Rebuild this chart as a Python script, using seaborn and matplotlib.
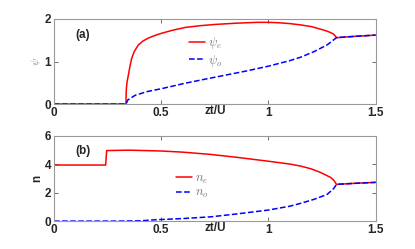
import numpy as np
import pandas as pd
import matplotlib
matplotlib.use("Agg")
import matplotlib.pyplot as plt
import seaborn as sns

# ----------------------- Data
x_psi_e = [0, 0.336, 0.3365, 0.338, 0.341, 0.347, 0.355, 0.363, 0.375, 0.394,
           0.415, 0.44, 0.47, 0.50, 0.55, 0.612, 0.68, 0.75, 0.85, 0.95, 1.0,
           1.05, 1.1, 1.15, 1.2, 1.243, 1.27, 1.29, 1.305, 1.318, 1.4, 1.5]
psi_e = [0, 0, 0.22, 0.38, 0.52, 0.68, 0.90, 1.08, 1.24, 1.39,
         1.48, 1.55, 1.61, 1.66, 1.73, 1.80, 1.84, 1.87, 1.90, 1.92, 1.92,
         1.91, 1.89, 1.86, 1.82, 1.76, 1.72, 1.68, 1.64, 1.56, 1.59, 1.62]

x_psi_o = [0, 0.336, 0.345, 0.38, 0.44, 0.50, 0.612, 0.70, 0.80, 0.90, 1.0,
           1.1, 1.15, 1.212, 1.274, 1.305, 1.318, 1.4, 1.5]
psi_o = [0, 0, 0.10, 0.21, 0.30, 0.36, 0.49, 0.58, 0.68, 0.78, 0.89,
         1.02, 1.10, 1.23, 1.39, 1.51, 1.56, 1.59, 1.62]

x_n_e = [0, 0.241, 0.246, 0.35, 0.5, 0.6, 0.73, 0.85, 1.0, 1.1, 1.15, 1.2,
         1.243, 1.29, 1.305, 1.318, 1.4, 1.5]
n_e = [3.95, 3.95, 4.97, 5.0, 4.94, 4.86, 4.70, 4.50, 4.22, 4.02, 3.88, 3.68,
       3.43, 3.08, 2.88, 2.59, 2.66, 2.73]

x_n_o = [0, 0.3, 0.4, 0.48, 0.6, 0.73, 0.85, 1.0, 1.1, 1.15, 1.212, 1.274,
         1.305, 1.318, 1.4, 1.5]
n_o = [0, 0, 0.02, 0.10, 0.18, 0.30, 0.50, 0.78, 1.05, 1.25, 1.53, 1.88,
       2.30, 2.59, 2.66, 2.73]

red = "#ff0000"
blue = "#0000ff"

sns.set_style("ticks")
plt.rcParams["font.family"] = ["Liberation Sans", "DejaVu Sans"]
plt.rcParams["mathtext.fontset"] = "cm"

fig = plt.figure(figsize=(4.15, 2.49), dpi=100)
ax1 = fig.add_axes([0.130, 0.582, 0.775, 0.342])
ax2 = fig.add_axes([0.130, 0.112, 0.775, 0.342])


def style_axis(ax, ylim, yticks):
    ax.set_xlim(0, 1.5)
    ax.set_ylim(*ylim)
    ax.set_xticks([0, 0.5, 1, 1.5])
    ax.set_xticklabels(["0", "0.5", "1", "1.5"])
    ax.set_yticks(yticks)
    ax.tick_params(direction="in", top=True, right=True, length=3,
                   width=0.6, color="#555555", labelsize=8.5, pad=2)
    for lab in ax.get_xticklabels() + ax.get_yticklabels():
        lab.set_fontweight("bold")
    for sp in ax.spines.values():
        sp.set_color("#999999")
        sp.set_linewidth(0.8)
    ax.set_xlabel("zt/U", fontsize=8.5, fontweight="bold", labelpad=-10)


# ----------------------- (a)
sns.lineplot(x=x_psi_e, y=psi_e, ax=ax1, color=red, lw=1.1,
             estimator=None, sort=False, label=r"$\psi_e$")
sns.lineplot(x=x_psi_o, y=psi_o, ax=ax1, color=blue, lw=1.1,
             estimator=None, sort=False, label=r"$\psi_o$", linestyle="--")
style_axis(ax1, (0, 2), [0, 1, 2])
ax1.set_ylabel(r"$\psi$", fontsize=8, color="#888888", labelpad=1)
ax1.text(0.1, 1.55, "(a)", fontsize=8.5, fontweight="bold")
leg = ax1.legend(loc="upper left", bbox_to_anchor=(0.40, 0.88), frameon=False,
                 fontsize=9, handlelength=1.3, handletextpad=0.2,
                 labelspacing=0.1, borderpad=0)
for t in leg.get_texts():
    t.set_color("#777777")

# ----------------------- (b)
sns.lineplot(x=x_n_e, y=n_e, ax=ax2, color=red, lw=1.1,
             estimator=None, sort=False, label=r"$n_e$")
sns.lineplot(x=x_n_o, y=n_o, ax=ax2, color=blue, lw=1.1,
             estimator=None, sort=False, label=r"$n_o$", linestyle="--")
style_axis(ax2, (0, 6), [0, 2, 4, 6])
ax2.set_ylabel("n", fontsize=8.5, fontweight="bold", labelpad=1)
ax2.text(0.1, 4.75, "(b)", fontsize=8.5, fontweight="bold")
leg = ax2.legend(loc="upper left", bbox_to_anchor=(0.36, 0.64), frameon=False,
                 fontsize=9, handlelength=1.3, handletextpad=0.2,
                 labelspacing=0.1, borderpad=0)
for t in leg.get_texts():
    t.set_color("#777777")

fig.savefig("out.png", dpi=100)
